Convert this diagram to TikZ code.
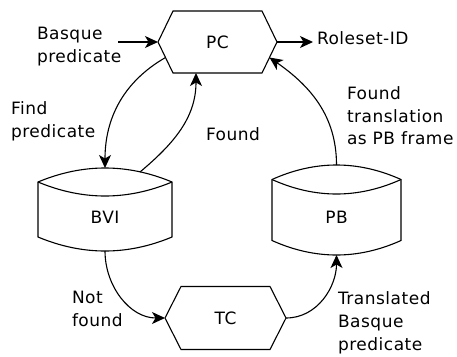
\documentclass[tikz,border=0pt]{standalone}
\usepackage{fontspec}
\setmainfont{DejaVu Sans}[LetterSpace=3]
\usetikzlibrary{arrows.meta,calc}
\tikzset{
  pics/drum/.style n args={3}{code={
    \draw[outline] (-#1,{-#2+#3})
      .. controls ({-#1/3},{-#2-#3/3}) and ({#1/3},{-#2-#3/3}) .. (#1,{-#2+#3})
      -- (#1,{#2-#3})
      .. controls ({#1/3},{#2+#3/3}) and ({-#1/3},{#2+#3/3}) .. (-#1,{#2-#3})
      -- cycle;
    \draw[outline] (#1,{-#2+#3})
      .. controls ({#1/3},{-#2+#3+4*#3/3}) and ({-#1/3},{-#2+#3+4*#3/3}) .. (-#1,{-#2+#3});
  }}
}
\newcommand\hexoutline[2]{%
  \draw[outline] (#1.west) -- ([xshift=#2]#1.north west) -- ([xshift=-#2]#1.north east)
    -- (#1.east) -- ([xshift=-#2]#1.south east) -- ([xshift=#2]#1.south west) -- cycle;}
\begin{document}
\begin{tikzpicture}[x=1pt,y=-1pt,
  every node/.style={font=\fontsize{17}{22.7}\selectfont, inner sep=0pt, outer sep=0pt},
  outline/.style={line width=1.1pt, line join=miter},
  conn/.style={line width=1.1pt, -{Stealth[length=13pt,width=12pt,inset=3.5pt]}},
  lbl/.style={align=left, anchor=north west},
]
\useasboundingbox (0,0) rectangle (457,356);

% process boxes
\node[minimum width=119pt, minimum height=62pt] (PC) at (217.5,42) {PC};
\hexoutline{PC}{15pt}
\node[minimum width=121pt, minimum height=63pt] (TC) at (225.5,318) {TC};
\hexoutline{TC}{16pt}

% databases
\node[minimum width=134pt, minimum height=83pt] (BVI) at (105,209.5) {};
\pic at (105,209.5) {drum={67}{41.5}{14}};
\node (BVItext) at (105,217) {BVI};
\node[minimum width=129pt, minimum height=90pt] (PB) at (336.5,210) {};
\pic at (336.5,210) {drum={64.5}{45}{14.5}};
\node (PBtext) at (336.5,217) {PB};

% labels
\node[lbl] (basq) at (37,27) {Basque\\predicate};
\node[anchor=base west] (role) at (317,44.7) {Roleset-ID};
\node[lbl] (findp) at (11,101.4) {Find\\predicate};
\node[anchor=base west] (found) at (206,140) {Found};
\node[lbl] (foundtr) at (347,86.4) {Found\\translation\\as PB frame};
\node[lbl] (notf) at (72,291) {Not\\found};
\node[lbl] (transl) at (338,292) {Translated\\Basque\\predicate};

% helper points
\coordinate (basqstart) at (118,42);
\coordinate (PCsw) at ([xshift=15pt]PC.south west);
\coordinate (PCse) at ([xshift=-15pt]PC.south east);
\coordinate (PCleft) at ($(PC.west)!0.5!(PCsw)$);
\coordinate (PCright) at ($(PC.east)!0.5!(PCse)$);
\coordinate (PCbot) at ([xshift=-21.5pt]PC.south);
\coordinate (BVItop) at ([xshift=35pt,yshift=-4pt]BVI.north);

% connectors
\draw[conn] (basqstart) -- (PC.west);
\draw[conn, shorten >=4pt] (PC.east) -- (PC.east -| role.west);
\draw[conn] (PCleft) to[out=210, in=90] (BVI.north);
\draw[conn] (BVItop) to[out=40, in=-90] (PCbot);
\draw[conn] (PB.north) to[out=90, in=-35] (PCright);
\draw[conn] (BVI.south) to[out=-90, in=180] (TC.west);
\draw[conn] (TC.east) to[out=0, in=-90] (PB.south);
\end{tikzpicture}
\end{document}
